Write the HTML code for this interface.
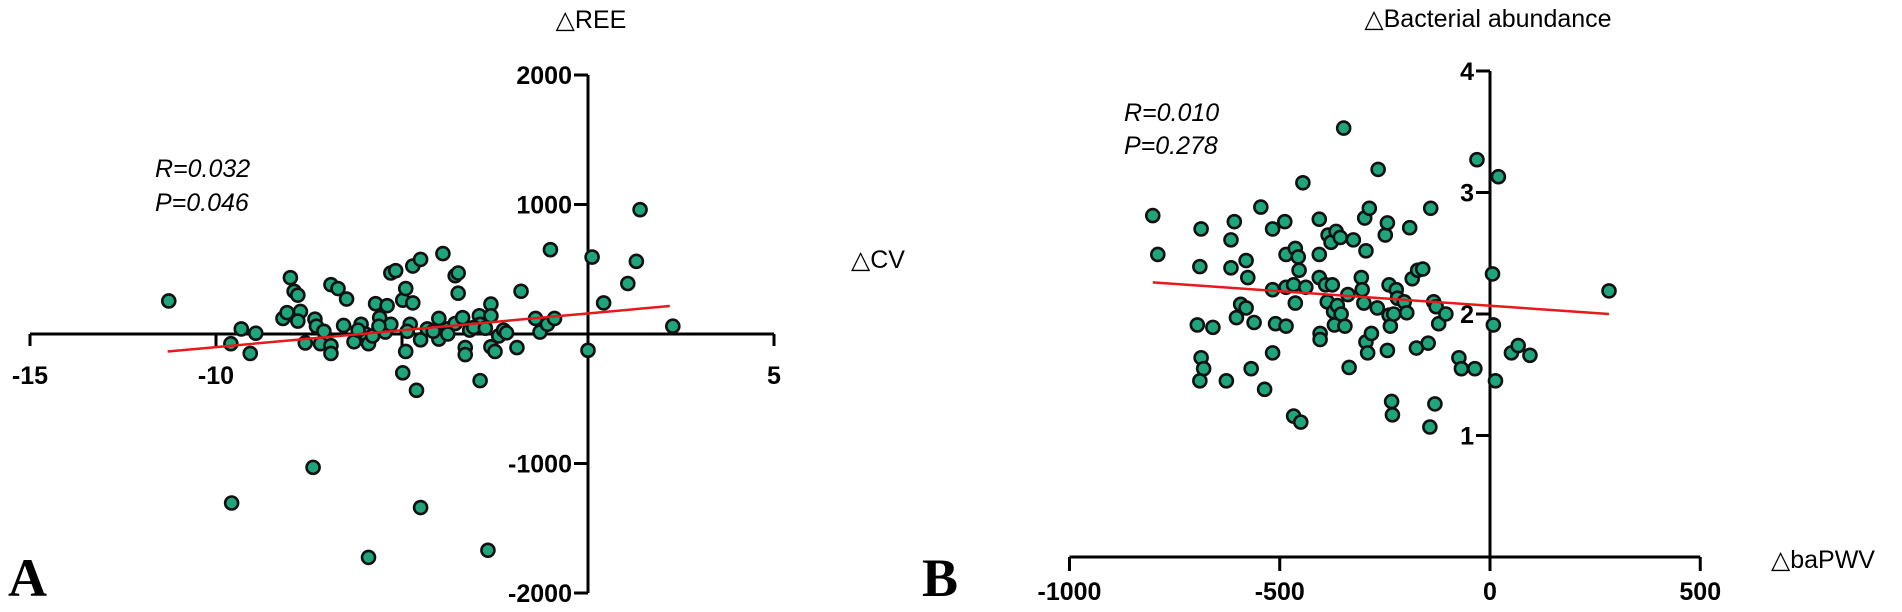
<!DOCTYPE html>
<html><head><meta charset="utf-8"><style>
body{margin:0;background:#fff;}
svg{display:block;font-family:"Liberation Sans",sans-serif;}
</style></head><body>
<svg id="fig" width="1902" height="612" viewBox="0 0 1902 612" style="position:absolute;left:0;top:0;">
<g id="pa"></g>
<g id="pb"></g>
<text x="591" y="28" text-anchor="middle" font-size="25">△REE</text>
<text x="878" y="268" text-anchor="middle" font-size="25">△CV</text>
<text x="155" y="177" font-size="25" font-style="italic">R=0.032</text>
<text x="155" y="211" font-size="25" font-style="italic">P=0.046</text>
<text x="8" y="596" font-size="54" font-weight="bold" font-family="Liberation Serif, serif">A</text>
<text x="1488" y="27" text-anchor="middle" font-size="25">△Bacterial abundance</text>
<text x="1823" y="568" text-anchor="middle" font-size="25">△baPWV</text>
<text x="1124" y="121" font-size="25" font-style="italic">R=0.010</text>
<text x="1124" y="154" font-size="25" font-style="italic">P=0.278</text>
<text x="922" y="596" font-size="54" font-weight="bold" font-family="Liberation Serif, serif">B</text>
</svg>
<script>
const aX=[-11.27,-9.6,-9.32,-9.08,-8.93,-9.58,-7.39,-5.9,-4.5,-2.69,-2.9,-4.61,-4.98,-8.2,-8.09,-8.0,-7.9,-7.8,-7.73,-7.8,-7.6,-7.34,-7.3,-7.19,-7.1,-6.91,-6.91,-6.91,-6.72,-6.49,-6.57,-6.29,-6.1,-5.98,-5.9,-5.79,-5.71,-5.6,-5.45,-5.4,-5.3,-5.3,-5.17,-4.98,-4.9,-4.9,-4.78,-4.71,-4.71,-4.5,-4.5,-4.32,-4.01,-4.01,-3.9,-3.77,-3.57,-3.57,-3.49,-3.49,-3.37,-3.3,-3.3,-3.18,-2.92,-2.9,-2.61,-2.61,-2.61,-2.5,-2.4,-2.27,-2.19,-1.91,-1.8,-1.41,-1.29,-1.09,-0.9,-1.01,0,0.11,0.42,1.07,1.3,1.4,2.28,-6.18,-4.86,-4.16,-3.77,-3.07,-2.76,-5.62];
const aY=[255,-75,39,-150,6,-1305,-1030,-1725,-1340,-1670,-360,-435,-300,120,165,435,330,300,174,100,-69,114,60,-75,21,-90,-150,381,351,270,66,-60,75,0,-75,-15,234,126,15,219,75,471,489,261,351,-135,75,240,525,576,-45,39,120,-39,621,39,81,450,471,315,126,-105,-159,30,141,75,231,141,-99,-135,-15,30,9,-105,330,120,15,75,120,651,-126,594,240,390,561,960,60,30,21,21,0,51,45,60];
const aFitX=[-11.3,2.2];
const aFitY=[-135,216];
const aXTicks=[-15,-10,-5,0,5];
const aXTickLabels=["-15","-10","","","5"];
const aYTicks=[2000,1000,-1000,-2000];
const aYTickLabels=["2000","1000","-1000","-2000"];

const bX=[-802,-790,-696,-690,-687,-687,-681,-690,-659,-627,-616,-616,-608,-603,-593,-580,-580,-576,-568,-561,-545,-536,-517,-517,-517,-510,-488,-485,-485,-485,-467,-467,-463,-463,-456,-454,-450,-445,-438,-406,-406,-406,-404,-404,-391,-387,-385,-378,-375,-372,-370,-366,-363,-356,-354,-348,-345,-338,-335,-325,-306,-304,-300,-298,-295,-295,-291,-287,-282,-268,-266,-249,-244,-244,-240,-240,-237,-234,-232,-229,-223,-220,-204,-198,-191,-185,-172,-175,-160,-147,-141,-143,-134,-128,-131,-122,-105,-74,-68,-36,-31,6,8,13,20,51,67,95,283];
const bY=[2.81,2.49,1.91,2.39,2.70,1.64,1.55,1.45,1.89,1.45,2.61,2.38,2.76,1.97,2.08,2.44,2.05,2.30,1.55,1.93,2.88,1.38,2.70,2.20,1.68,1.92,2.76,2.49,2.22,1.90,2.24,1.16,2.54,2.09,2.47,2.36,1.11,3.08,2.22,2.78,2.49,2.30,1.84,1.79,2.24,2.10,2.65,2.59,2.24,2.02,1.91,2.68,2.07,2.63,2.00,3.53,1.90,2.16,1.56,2.61,2.30,2.20,2.09,2.79,2.52,1.77,1.68,2.87,1.84,2.05,3.19,2.65,2.75,1.70,2.24,1.99,1.90,1.28,1.17,2.00,2.20,2.13,2.10,2.01,2.71,2.29,2.36,1.72,2.37,1.76,2.87,1.07,2.10,2.06,1.26,1.92,2.00,1.64,1.55,1.55,3.27,2.33,1.91,1.45,3.13,1.68,1.74,1.66,2.19];
const bFitX=[-802,283];
const bFitY=[2.26,2.00];
const bXTicks=[-1000,-500,0,500];
const bXTickLabels=["-1000","-500","0","500"];
const bYTicks=[4,3,2,1];
const bYTickLabels=["4","3","2","1"];

const NS="http://www.w3.org/2000/svg";
function mk(parent,tag,attrs,text){const e=document.createElementNS(NS,tag);for(const k in attrs)e.setAttribute(k,attrs[k]);if(text!==undefined)e.textContent=text;parent.appendChild(e);return e;}

function panel(g,cfg){
  const sx=v=>cfg.x0px+(v-cfg.x0)*cfg.xs;
  const sy=v=>cfg.y0px-(v-cfg.y0)*cfg.ys;
  const ax=sx(0), ay=sy(0);
  let l=mk(g,'line',{x1:sx(cfg.xmin),x2:sx(cfg.xmax),y1:ay,y2:ay,stroke:'#000','stroke-width':3});
  
  
  cfg.xt.forEach((t,i)=>{
    const tk=mk(g,'line',{x1:sx(t),x2:sx(t),y1:ay,y2:ay+cfg.xtickLen,stroke:'#000','stroke-width':3});
    
    
    if(cfg.xl[i]!==""){
      const tx=mk(g,'text',{x:sx(t),y:cfg.xLabelY,'text-anchor':'middle','font-size':25,'font-weight':'bold'},cfg.xl[i]);
      
      
    }
  });
  l=mk(g,'line',{x1:ax,x2:ax,y1:sy(cfg.ymax),y2:sy(cfg.ymin),stroke:'#000','stroke-width':3});
  
  
  cfg.yt.forEach((t,i)=>{
    const tk=mk(g,'line',{x1:ax-14,x2:ax,y1:sy(t),y2:sy(t),stroke:'#000','stroke-width':3});
    
    
    const tx=mk(g,'text',{x:ax-16,y:sy(t)+9,'text-anchor':'end','font-size':25,'font-weight':'bold'},cfg.yl[i]);
    
    
  });
  cfg.px.forEach((v,i)=>{
    const c=mk(g,'circle',{cx:sx(v),cy:sy(cfg.py[i]),r:6.5,fill:'#1fa57c',stroke:'#111','stroke-width':2.6});
    
    
  });
  const f=mk(g,'line',{x1:sx(cfg.fx[0]),y1:sy(cfg.fy[0]),x2:sx(cfg.fx[1]),y2:sy(cfg.fy[1]),stroke:'#e8191b','stroke-width':2.5});
  
  
}

panel(document.getElementById('pa'),{x0:0,x0px:588,xs:37.2,y0:0,y0px:334,ys:0.1295,
  xmin:-15,xmax:5,ymin:-2000,ymax:2000,xt:aXTicks,xl:aXTickLabels,yt:aYTicks,yl:aYTickLabels,
  xtickLen:12,xLabelY:384,px:aX,py:aY,fx:aFitX,fy:aFitY});
panel(document.getElementById('pb'),{x0:0,x0px:1490,xs:0.4205,y0:0,y0px:557,ys:121.5,
  xmin:-1000,xmax:500,ymin:0,ymax:4,xt:bXTicks,xl:bXTickLabels,yt:bYTicks,yl:bYTickLabels,
  xtickLen:14,xLabelY:600,px:bX,py:bY,fx:bFitX,fy:bFitY});
</script>
</body></html>
